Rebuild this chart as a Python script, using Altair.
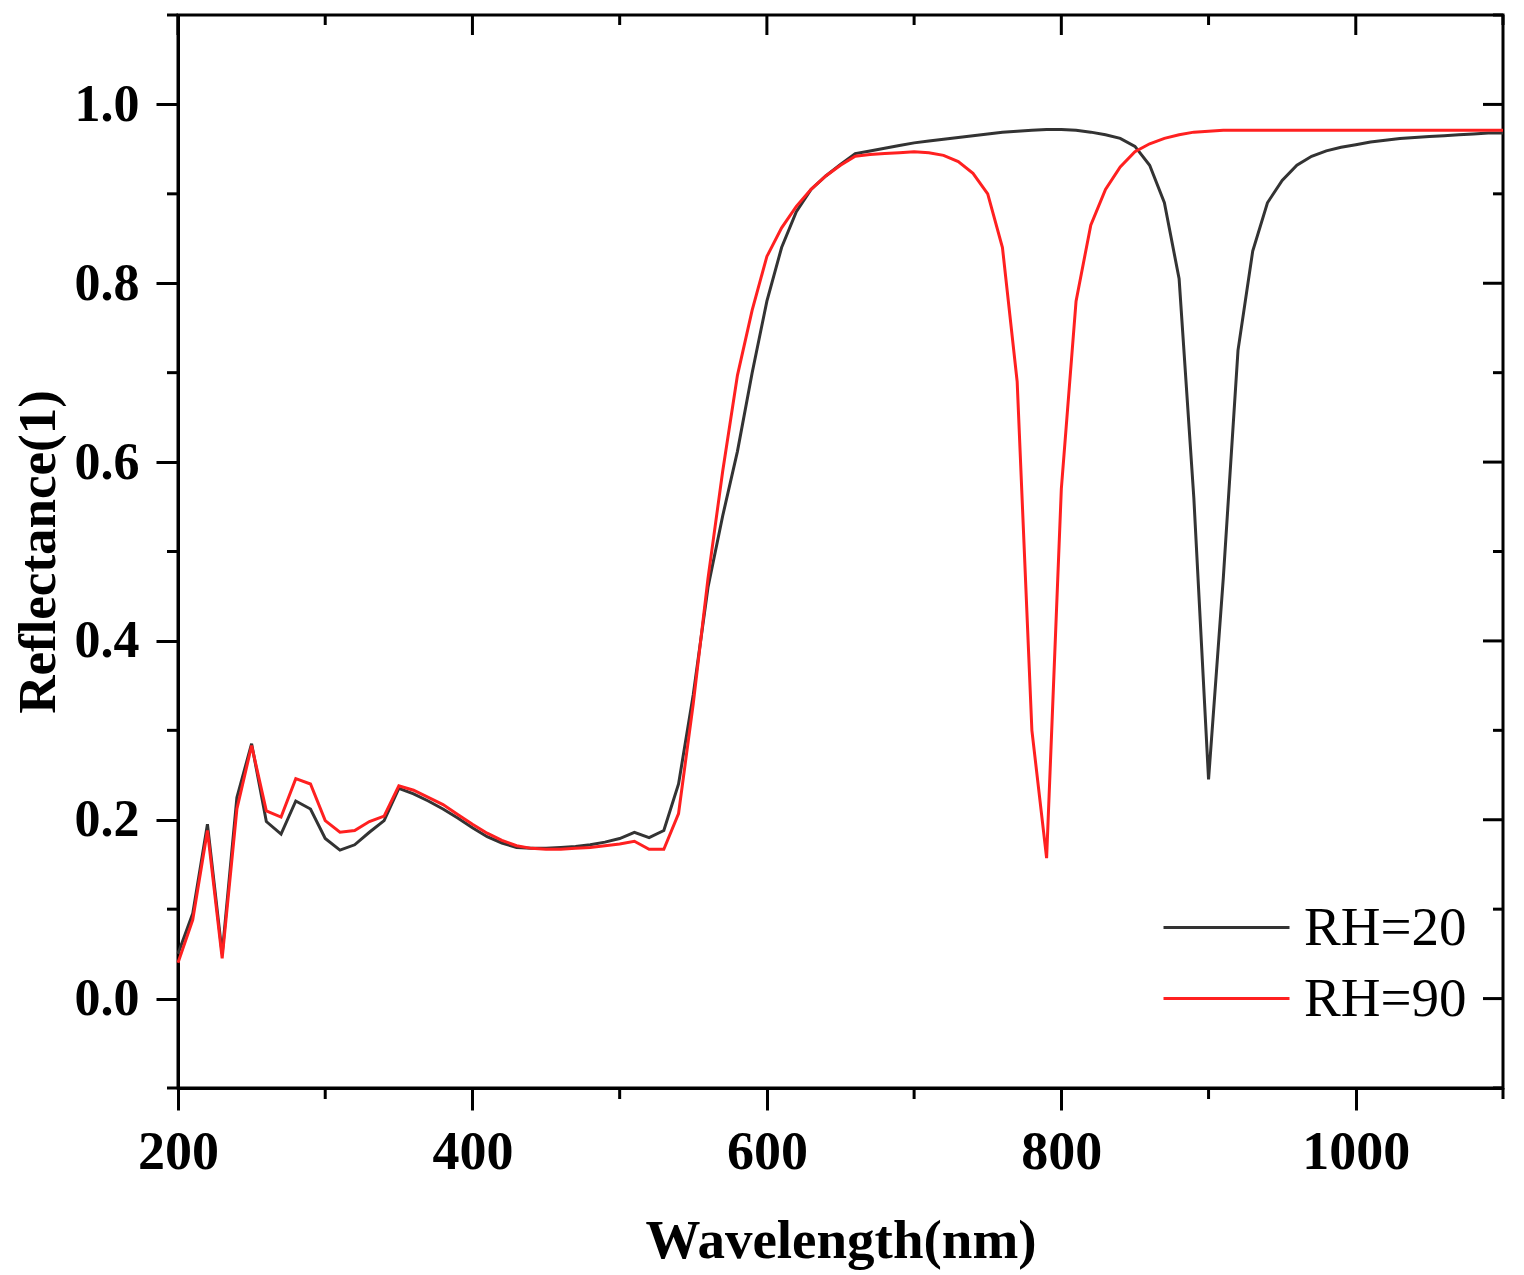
import altair as alt
import pandas as pd

# ---- data ----
wavelength = list(range(200, 1101, 10))

rh20 = [
    0.050, 0.095, 0.195, 0.050, 0.225, 0.285, 0.198, 0.184, 0.221, 0.212,   # 200-290
    0.179, 0.166, 0.172, 0.186, 0.199, 0.235, 0.229, 0.221, 0.212, 0.202,   # 300-390
    0.191, 0.181, 0.174, 0.169, 0.168, 0.168, 0.169, 0.170, 0.172, 0.175,   # 400-490
    0.179, 0.186, 0.180, 0.188, 0.240, 0.340, 0.460, 0.540, 0.612, 0.700,   # 500-590
    0.780, 0.840, 0.880, 0.905, 0.920, 0.933, 0.945, 0.948, 0.951, 0.954,   # 600-690
    0.957, 0.959, 0.961, 0.963, 0.965, 0.967, 0.969, 0.970, 0.971, 0.972,   # 700-790
    0.972, 0.971, 0.969, 0.966, 0.962, 0.953, 0.932, 0.890, 0.805, 0.560,   # 800-890
    0.245, 0.470, 0.725, 0.836, 0.890, 0.915, 0.932, 0.942, 0.948, 0.952,   # 900-990
    0.955, 0.958, 0.960, 0.962, 0.963, 0.964, 0.965, 0.966, 0.967, 0.968,   # 1000-1090
    0.968,                                                                   # 1100
]

rh90 = [
    0.040, 0.088, 0.188, 0.045, 0.212, 0.283, 0.210, 0.203, 0.246, 0.240,   # 200-290
    0.199, 0.186, 0.188, 0.198, 0.204, 0.238, 0.233, 0.225, 0.217, 0.206,   # 300-390
    0.195, 0.185, 0.177, 0.171, 0.168, 0.167, 0.167, 0.168, 0.169, 0.171,   # 400-490
    0.173, 0.176, 0.167, 0.167, 0.207, 0.330, 0.470, 0.590, 0.697, 0.770,   # 500-590
    0.830, 0.862, 0.886, 0.905, 0.920, 0.932, 0.942, 0.944, 0.945, 0.946,   # 600-690
    0.947, 0.946, 0.943, 0.936, 0.923, 0.900, 0.840, 0.690, 0.300, 0.157,   # 700-790
    0.570, 0.780, 0.865, 0.905, 0.930, 0.947, 0.956, 0.962, 0.966, 0.969,   # 800-890
    0.970, 0.971, 0.971, 0.971, 0.971, 0.971, 0.971, 0.971, 0.971, 0.971,   # 900-990
    0.971, 0.971, 0.971, 0.971, 0.971, 0.971, 0.971, 0.971, 0.971, 0.971,   # 1000-1090
    0.971,                                                                   # 1100
]

series_names = ["RH=20", "RH=90"]
series_colors = ["#333333", "#ff2020"]

x_major = [200, 400, 600, 800, 1000]
x_minor = [300, 500, 700, 900, 1100]
y_major = [0.0, 0.2, 0.4, 0.6, 0.8, 1.0]
y_minor = [-0.1, 0.1, 0.3, 0.5, 0.7, 0.9, 1.1]

# ---- layout ----
W, H = 1325, 1073
FONT = "Liberation Serif"

df = pd.concat([
    pd.DataFrame({"wl": wavelength, "r": rh20, "series": series_names[0]}),
    pd.DataFrame({"wl": wavelength, "r": rh90, "series": series_names[1]}),
])

xscale = alt.Scale(domain=[200, 1100], nice=False, zero=False)
yscale = alt.Scale(domain=[-0.1, 1.1], nice=False, zero=False)

x_axis = alt.Axis(values=x_major, format="d", title="Wavelength(nm)",
                  titleFont=FONT, titleFontSize=55, titleFontWeight="bold",
                  titleX=W / 2, titleY=169, titleBaseline="alphabetic",
                  titleColor="black",
                  labelFont=FONT, labelFontSize=54, labelFontWeight="bold",
                  labelBaseline="alphabetic", labelPadding=58,
                  labelColor="black", labelFlush=False,
                  tickSize=22, tickWidth=3, tickColor="black",
                  domainColor="black", domainWidth=3, grid=False)

y_axis = alt.Axis(values=y_major, format=".1f", title="Reflectance(1)",
                  titleFont=FONT, titleFontSize=53, titleFontWeight="bold",
                  titleX=-140, titleY=H / 2, titleAngle=270,
                  titleBaseline="middle", titleAlign="center",
                  titleColor="black",
                  labelFont=FONT, labelFontSize=52, labelFontWeight="bold",
                  labelPadding=17, labelColor="black", labelFlush=False,
                  tickSize=22, tickWidth=3, tickColor="black",
                  domainColor="black", domainWidth=3, grid=False)

lines = alt.Chart(df).mark_line(strokeWidth=3).encode(
    x=alt.X("wl:Q", scale=xscale, axis=x_axis),
    y=alt.Y("r:Q", scale=yscale, axis=y_axis),
    color=alt.Color("series:N",
                    scale=alt.Scale(domain=series_names, range=series_colors),
                    legend=alt.Legend(orient="none", legendX=1021, legendY=885,
                                      title=None, padding=0,
                                      symbolType="M-3,0H3", symbolSize=1764,
                                      symbolStrokeWidth=3,
                                      labelFont=FONT, labelFontSize=55,
                                      labelColor="black", labelOffset=50,
                                      labelLimit=0, rowPadding=15)),
)


def hrules(values, x0, x1):
    return alt.Chart(pd.DataFrame({"wl": [200] * len(values), "r": values})).mark_rule(
        color="black", strokeWidth=3).encode(
        y=alt.Y("r:Q", scale=yscale, axis=y_axis),
        x=alt.value(x0), x2=alt.value(x1))


def vrules(values, y0, y1):
    return alt.Chart(pd.DataFrame({"wl": values})).mark_rule(
        color="black", strokeWidth=3).encode(
        x=alt.X("wl:Q", scale=xscale, axis=x_axis),
        y=alt.value(y0), y2=alt.value(y1))


ticks = [
    hrules(y_minor, -11, 0),          # left minor (outward)
    hrules(y_major, W - 20, W),       # right major (inward)
    hrules(y_minor, W - 10, W),       # right minor (inward)
    vrules(x_minor, H, H + 11),       # bottom minor (outward)
    vrules(x_major, 0, 20),           # top major (inward)
    vrules(x_minor, 0, 10),           # top minor (inward)
]

chart = alt.layer(lines, *ticks).properties(
    width=W, height=H,
    autosize=alt.AutoSizeParams(type="none"),
    padding={"left": 170, "top": 7, "right": 13, "bottom": 187},
    background="white",
).configure_view(stroke="black", strokeWidth=3)

chart.save("out.html", embed_options={"renderer": "svg", "actions": False})
